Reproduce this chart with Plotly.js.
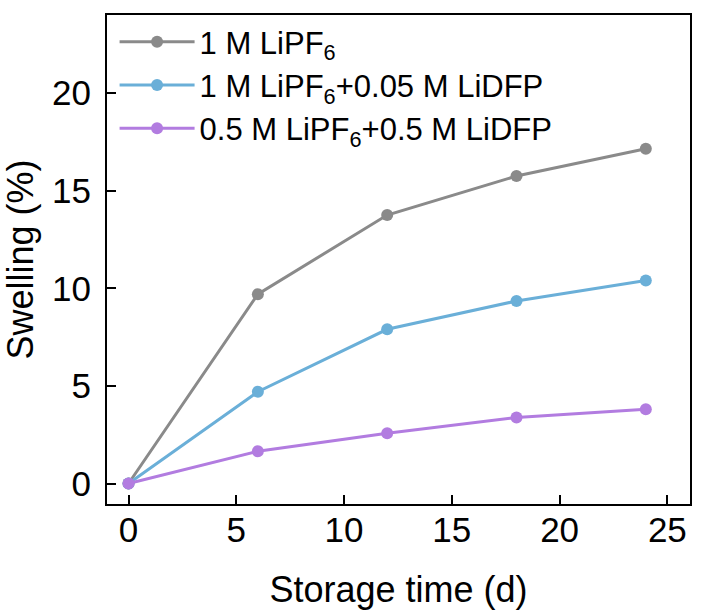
<!DOCTYPE html>
<html>
<head>
<meta charset="utf-8">
<script src="https://cdn.plot.ly/plotly-3.0.1.min.js"></script>
<style>html,body{margin:0;padding:0;background:#fff;}#chart{width:705px;height:610px;}</style>
</head>
<body>
<div id="chart"></div>
<script>
const days = [0, 6, 12, 18, 24];
const seriesNames = ['1 M LiPF<sub>6</sub>', '1 M LiPF<sub>6</sub>+0.05 M LiDFP', '0.5 M LiPF<sub>6</sub>+0.5 M LiDFP'];
const swellLiPF6 = [0, 9.7, 13.75, 15.75, 17.15];
const swellLow = [0, 4.7, 7.9, 9.35, 10.4];
const swellHigh = [0, 1.65, 2.57, 3.38, 3.8];
const colors = ['#8a8a8a', '#6aafd8', '#b27ce0'];
const xTicks = [0, 5, 10, 15, 20, 25];
const yTicks = [0, 5, 10, 15, 20];

const values = [swellLiPF6, swellLow, swellHigh];
const traces = values.map((v, i) => ({
  x: days, y: v, name: seriesNames[i], type: 'scatter', mode: 'lines+markers',
  line: {color: colors[i], width: 3},
  marker: {color: colors[i], size: 12}
}));

const font = 'Liberation Sans, Arial, sans-serif';
const axisCommon = {
  showline: true, linecolor: '#000', linewidth: 2, mirror: true,
  ticks: 'inside', ticklen: 9, tickwidth: 2, tickcolor: '#000',
  showgrid: false, zeroline: false,
  tickfont: {family: font, size: 35, color: '#000'}
};
const layout = {
  width: 705, height: 610,
  margin: {l: 107, r: 15, t: 15, b: 106},
  paper_bgcolor: '#fff', plot_bgcolor: '#fff',
  font: {family: font, color: '#000'},
  showlegend: true,
  legend: {x: 0.013, y: 1, xanchor: 'left', yanchor: 'top', bgcolor: 'rgba(0,0,0,0)',
           font: {family: font, size: 31, color: '#000'}, itemwidth: 75},
  xaxis: Object.assign({}, axisCommon, {
    range: [-1, 26.05], tickvals: xTicks, ticktext: xTicks.map(String),
    ticklabelstandoff: -6,
    title: {text: 'Storage time (d)', font: {family: font, size: 36, color: '#000'}, standoff: 29}
  }),
  yaxis: Object.assign({}, axisCommon, {
    range: [-1.05, 24], tickvals: yTicks, ticktext: yTicks.map(String),
    ticklabelstandoff: 7,
    title: {text: 'Swelling (%)', font: {family: font, size: 36, color: '#000'}, standoff: 12}
  })
};
Plotly.newPlot('chart', traces, layout, {displayModeBar: false, staticPlot: true});
</script>
</body>
</html>
